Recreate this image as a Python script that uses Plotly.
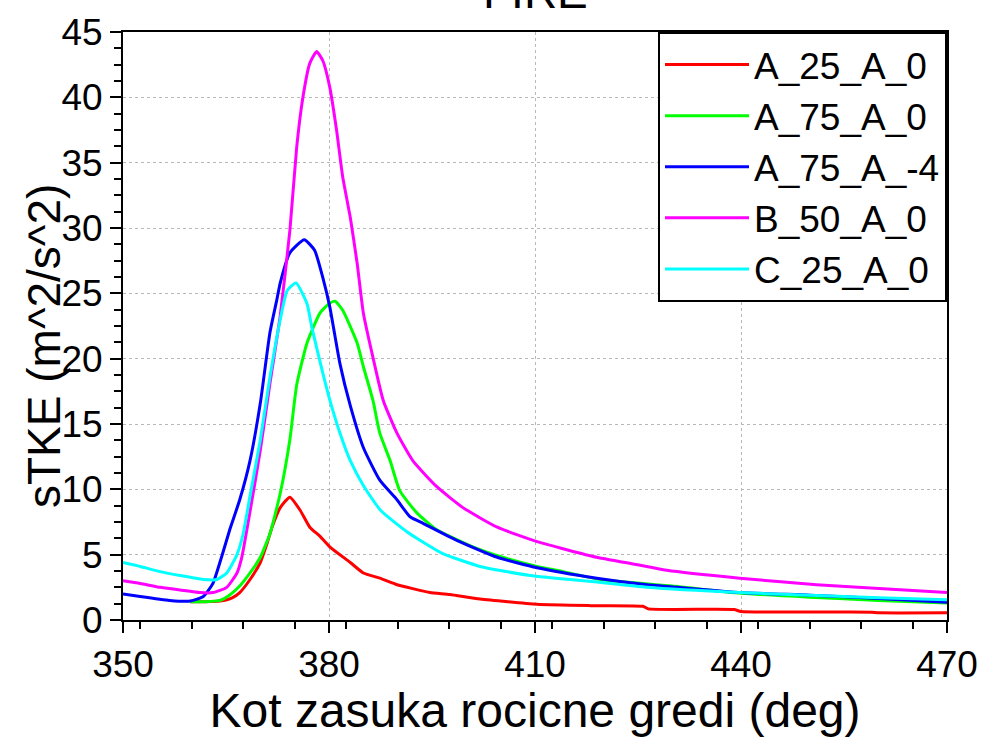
import plotly.graph_objects as go

# ---- data ----
red_x = [359.8, 362, 364.1, 365.9, 367, 368.5, 370, 371, 371.7, 372.9, 374.3, 375.8, 377.2, 378.7, 380.1,
         383.1, 385, 387.4, 389.9, 392.2, 394.7, 397.6, 402, 410.3, 418, 425.7, 426.5, 439, 440, 459, 460, 470]
red_y = [1.4, 1.4, 1.45, 1.7, 2.1, 3.1, 4.4, 5.9, 7.1, 8.6, 9.4, 8.4, 7.1, 6.4, 5.6,
         4.4, 3.6, 3.2, 2.7, 2.4, 2.1, 1.95, 1.6, 1.2, 1.1, 1.05, 0.85, 0.8, 0.65, 0.6, 0.55, 0.55]

green_x = [359.8, 362, 364.1, 365.5, 367, 368.5, 370, 371.4, 372.9, 374.3, 375.3, 376.8, 378.7, 380, 380.9,
           382, 384.1, 385, 386.4, 387.4, 388.9, 390.3, 392.8, 395.7, 400.5, 405.3, 410.3, 414.1, 419.5,
           430, 440, 450, 460, 470]
green_y = [1.4, 1.4, 1.5, 1.9, 2.6, 3.6, 4.8, 6.6, 9.7, 13.8, 18.0, 21.2, 23.5, 24.2, 24.4,
           23.7, 21.2, 19.4, 16.8, 14.3, 12.2, 9.9, 8.2, 6.9, 5.7, 4.8, 4.1, 3.7, 3.1,
           2.6, 2.05, 1.75, 1.5, 1.3]

blue_x = [350, 352.5, 356.8, 359.8, 361.7, 363.1, 364.4, 365.6, 367, 368.5, 370, 371.4, 372.4, 372.9, 374.3,
          376.4, 377.9, 379.1, 380.1, 381.6, 383.1, 385, 387.4, 389.9, 391.8, 393.7, 398.6, 404.5, 410.3,
          419, 426.3, 430.7, 440, 450, 460, 470]
blue_y = [2.0, 1.8, 1.5, 1.45, 1.8, 2.8, 4.9, 7.0, 9.2, 12.2, 16.6, 22.0, 24.5, 25.8, 28.1,
          29.1, 28.3, 26.2, 24.0, 19.6, 16.4, 13.2, 10.7, 9.2, 7.9, 7.4, 6.1, 4.8, 4.0,
          3.2, 2.7, 2.5, 2.1, 1.9, 1.65, 1.35]

magenta_x = [350, 352.5, 355.4, 358.3, 361.2, 363.1, 365.1, 366.6, 367.3, 368.5, 370, 371.4, 372.9, 374.3,
             375.3, 376.2, 377.2, 378.2, 379.1, 380.1, 381.1, 382, 383.1, 384.1, 385, 386.4, 387.9, 389.9,
             392.2, 395.7, 399.5, 404.5, 410.3, 419, 426.3, 429.2, 439.8, 451, 460.7, 470]
magenta_y = [3.0, 2.8, 2.5, 2.3, 2.1, 2.1, 2.5, 3.6, 4.8, 8.3, 13.0, 18.1, 23.3, 29.8,
             36.2, 40.0, 42.6, 43.5, 42.8, 40.8, 37.5, 33.9, 30.8, 27.3, 23.5, 20.1, 16.8, 14.3,
             12.2, 10.2, 8.6, 7.1, 6.0, 4.8, 4.1, 3.8, 3.2, 2.7, 2.4, 2.1]

cyan_x = [350, 352.5, 355.4, 358.3, 361.7, 363.7, 365.1, 366.6, 367.5, 368.5, 370, 371.4, 372.9, 373.9,
          375.2, 376.8, 377.5, 379.1, 380.3, 381.6, 383.1, 385, 387.5, 391.5, 396.5, 402, 409.3, 419,
          426.3, 439.8, 450, 460, 470]
cyan_y = [4.4, 4.1, 3.7, 3.4, 3.1, 3.1, 3.6, 5.0, 6.6, 9.5, 13.8, 18.6, 23.0, 25.2,
          25.8, 24.2, 22.4, 18.9, 16.5, 14.3, 12.2, 10.3, 8.4, 6.7, 5.1, 4.1, 3.4, 2.9,
          2.5, 2.1, 1.9, 1.7, 1.55]

series = [
    ("A_25_A_0", red_x, red_y, "#FF0000"),
    ("A_75_A_0", green_x, green_y, "#00FF00"),
    ("A_75_A_-4", blue_x, blue_y, "#0000FF"),
    ("B_50_A_0", magenta_x, magenta_y, "#FF00FF"),
    ("C_25_A_0", cyan_x, cyan_y, "#00FFFF"),
]

FONT = "Liberation Sans, Arial, Helvetica, sans-serif"

fig = go.Figure()
for name, xs, ys, col in series:
    fig.add_trace(go.Scatter(x=xs, y=ys, mode="lines", name=name,
                             line=dict(color=col, width=3, shape="spline", smoothing=0.5)))

axis_common = dict(
    showline=True, linecolor="black", linewidth=2, mirror=True,
    ticks="outside", ticklen=11, tickwidth=2, tickcolor="black",
    showgrid=True, gridcolor="#b8b8b8", gridwidth=1, griddash="dot",
    zeroline=False,
    tickfont=dict(family=FONT, size=37, color="black"),
)

fig.update_xaxes(
    range=[350, 470], tickmode="linear", tick0=350, dtick=30,
    minor=dict(dtick=7.5, ticks="outside", ticklen=7, tickwidth=1.5, tickcolor="black", showgrid=False),
    title=dict(text="Kot zasuka rocicne gredi (deg)", font=dict(family=FONT, size=48, color="black"),
               standoff=4),
    **axis_common,
)
fig.update_yaxes(
    range=[0, 45], tickmode="linear", tick0=0, dtick=5,
    minor=dict(dtick=1.25, ticks="outside", ticklen=7, tickwidth=1.5, tickcolor="black", showgrid=False),
    **axis_common,
)

# y-axis title (placed slightly below centre as in the reference)
fig.add_annotation(text="sTKE (m^2/s^2)", xref="paper", yref="paper", x=0, y=0.5,
                   xanchor="right", yanchor="middle", xshift=-51, yshift=-20, textangle=-90,
                   showarrow=False, font=dict(family=FONT, size=46, color="black"))

fig.add_annotation(text="FIRE", xref="paper", yref="paper", x=0.5, y=1, yanchor="bottom",
                   yshift=12, showarrow=False, font=dict(family=FONT, size=46, color="black"))

fig.update_layout(
    width=983, height=737,
    margin=dict(l=123, r=36, t=32, b=117, autoexpand=False),
    plot_bgcolor="white", paper_bgcolor="white",
    font=dict(family=FONT, color="black"),
    legend=dict(x=1, y=1, xanchor="right", yanchor="top",
                bgcolor="white", bordercolor="black", borderwidth=2,
                font=dict(family=FONT, size=37, color="black"),
                itemwidth=84, tracegroupgap=0),
    showlegend=True,
)

fig.write_html("out.html")
